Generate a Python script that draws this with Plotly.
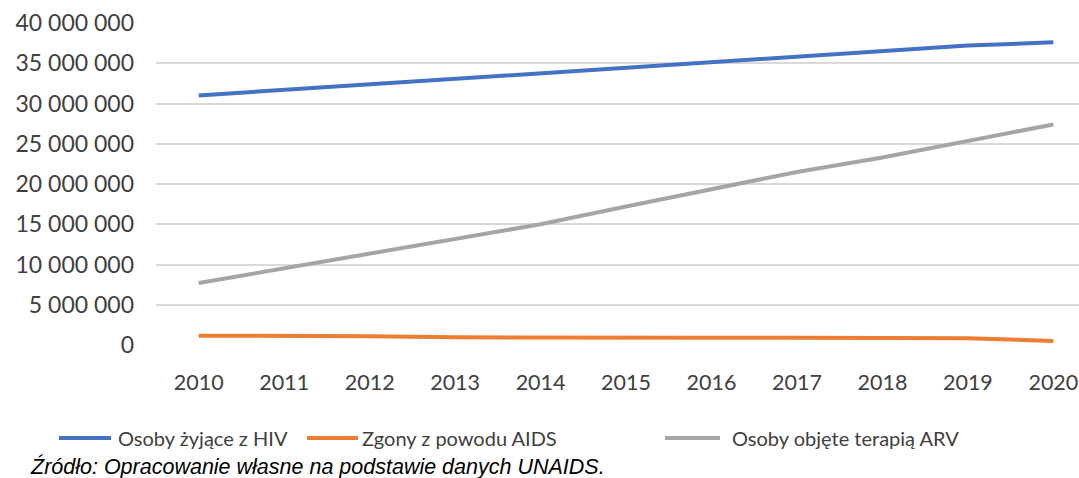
import plotly.graph_objects as go

# lata i serie
years = [str(y) for y in range(2010, 2021)]
hiv_living = [31.0e6, 31.7e6, 32.4e6, 33.1e6, 33.8e6, 34.5e6, 35.1e6, 35.8e6, 36.5e6, 37.2e6, 37.6e6]
aids_deaths = [1.15e6, 1.15e6, 1.1e6, 0.95e6, 0.9e6, 0.9e6, 0.9e6, 0.9e6, 0.9e6, 0.85e6, 0.5e6]
arv_therapy = [7.7e6, 9.5e6, 11.3e6, 13.2e6, 15.0e6, 17.2e6, 19.3e6, 21.5e6, 23.3e6, 25.4e6, 27.4e6]

series_names = ['Osoby żyjące z HIV', 'Zgony z powodu AIDS', 'Osoby objęte terapią ARV']
series_colors = ['#4472C4', '#ED7D31', '#A5A5A5']

y_ticks = [0, 5e6, 10e6, 15e6, 20e6, 25e6, 30e6, 35e6, 40e6]
y_ticktext = ['0', '5 000 000', '10 000 000', '15 000 000', '20 000 000',
              '25 000 000', '30 000 000', '35 000 000', '40 000 000']

FONT = 'Lato'

# figura na cale okno (margines body zerowany w post_script)
W, H = 1079, 478
L, T, B = 156, 23, 133
PW, PH = W - L, H - T - B


def px_x(px):
    # piksel -> wspolrzedna paper
    return (px - L) / PW


def px_y(py):
    return (T + PH - py) / PH


fig = go.Figure()
for name, vals, col in zip(series_names, [hiv_living, aids_deaths, arv_therapy], series_colors):
    fig.add_trace(go.Scatter(x=years, y=vals, name=name, mode='lines',
                             line=dict(color=col, width=4), showlegend=False))

fig.update_layout(
    width=W, height=H,
    margin=dict(l=L, r=0, t=T, b=B, autoexpand=False),
    paper_bgcolor='white', plot_bgcolor='white',
    font=dict(family=FONT, size=14, color='#404040'),
)

fig.update_xaxes(type='category', range=[-0.5, 10.3], showgrid=False, zeroline=False,
                 showline=False, ticks='', tickfont=dict(size=21.5, color='#404040'),
                 ticklabelstandoff=22, ticklabeloverflow='allow')
fig.update_yaxes(range=[0, 40e6], tickvals=y_ticks, ticktext=y_ticktext,
                 showgrid=True, gridcolor='#D9D9D9', gridwidth=2, zeroline=False,
                 showline=False, ticks='', tickfont=dict(size=23, color='#404040'),
                 ticklabelstandoff=21)

# legenda rysowana recznie, zeby rozstaw byl jak w oryginale
legend_y = 438
legend_lines = [(59, 111), (307, 358), (665, 720)]
legend_text_x = [116, 360, 730]
for name, col, (x0, x1), tx in zip(series_names, series_colors, legend_lines, legend_text_x):
    fig.add_shape(type='line', xref='paper', yref='paper',
                  x0=px_x(x0), x1=px_x(x1), y0=px_y(legend_y), y1=px_y(legend_y),
                  line=dict(color=col, width=4))
    fig.add_annotation(text=name, xref='paper', yref='paper', x=px_x(tx), y=px_y(legend_y),
                       xanchor='left', yanchor='middle', showarrow=False,
                       font=dict(family=FONT, size=20, color='#404040'))

fig.add_annotation(text='<i>Źródło: Opracowanie własne na podstawie danych UNAIDS.</i>',
                   xref='paper', yref='paper', x=px_x(28), y=px_y(466),
                   xanchor='left', yanchor='middle', showarrow=False,
                   font=dict(family='Liberation Sans', size=21.5, color='#000000'))

fig.write_html("out.html", config={'displayModeBar': False},
               post_script="document.body.style.margin='0';document.body.style.overflow='hidden';")
